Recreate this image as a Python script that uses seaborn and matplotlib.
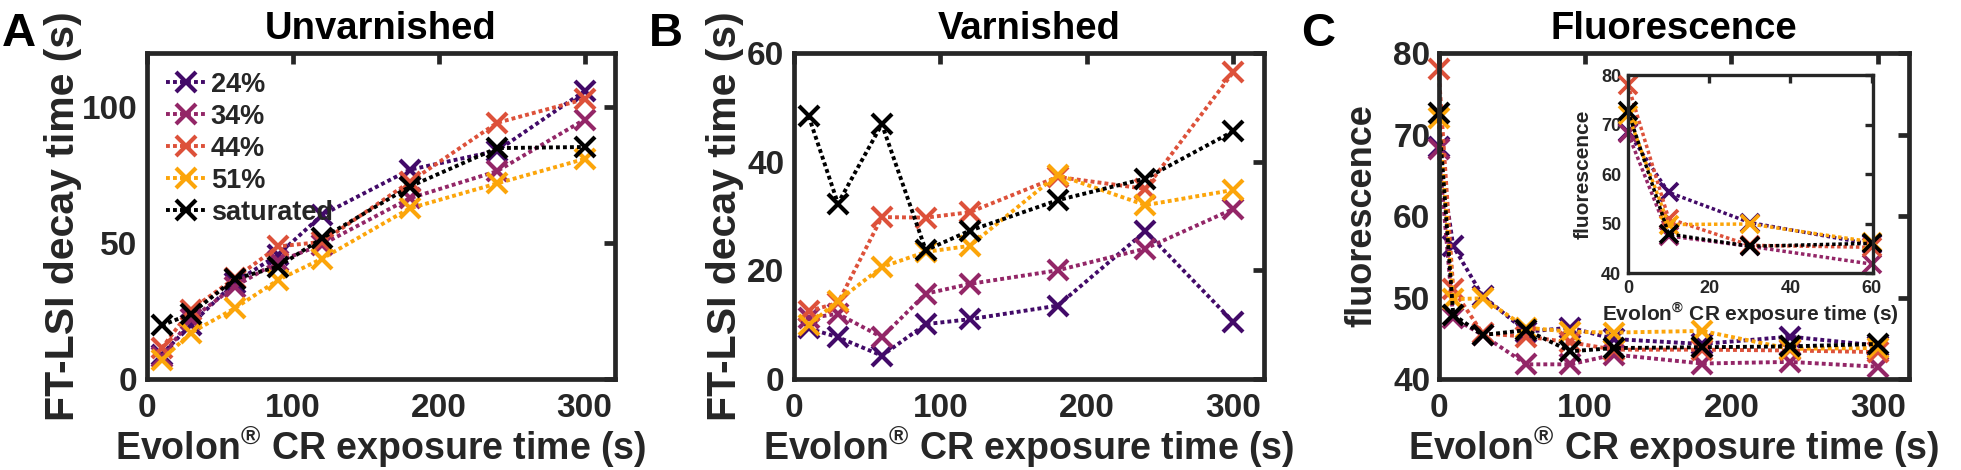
import matplotlib
matplotlib.use("Agg")
import matplotlib.pyplot as plt
import numpy as np
import pandas as pd
import seaborn as sns

# Data
SERIES = ["24%", "34%", "44%", "51%", "saturated"]
COLORS = ["#420a68", "#932667", "#dd513a", "#fca50a", "#000000"]

time_ab = [10, 30, 60, 90, 120, 180, 240, 300]
time_c = [0, 10, 30, 60, 90, 120, 180, 240, 300]

unvarnished_24 = [9, 20, 35.5, 45.8, 60.4, 77, 84, 106]
unvarnished_34 = [8, 22, 34, 43.3, 49.5, 66.5, 76.5, 95.5]
unvarnished_44 = [11.3, 25.5, 37, 48.8, 50.5, 72.5, 94.3, 103]
unvarnished_51 = [7, 17, 26, 36.5, 44.3, 62.8, 72, 81]
unvarnished_sat = [19.7, 24, 36.8, 41.4, 51.8, 70.8, 85, 85.4]

varnished_24 = [9.3, 7.7, 4.3, 10.1, 11, 13.5, 27.2, 10.5]
varnished_34 = [11.2, 12, 7.7, 15.7, 17.5, 20, 24, 31.3]
varnished_44 = [12.5, 14, 29.8, 29.7, 30.7, 37.2, 35, 56.5]
varnished_51 = [9.9, 14.4, 20.6, 23.4, 24.5, 37.6, 32, 34.8]
varnished_sat = [48.4, 32.3, 46.9, 23.7, 27.3, 32.9, 36.9, 45.6]

fluor_24 = [68.5, 56.3, 50.2, 45.8, 46.3, 44.9, 44.3, 45.2, 44.1]
fluor_34 = [68.2, 47.5, 45.4, 41.8, 41.8, 43.0, 41.9, 42.1, 41.5]
fluor_44 = [78.0, 51.0, 45.6, 45.2, 44.5, 43.6, 43.6, 43.5, 43.3]
fluor_51 = [72.0, 49.8, 49.9, 46.3, 45.8, 45.7, 45.9, 43.7, 43.8]
fluor_sat = [72.7, 47.9, 45.4, 46.0, 43.4, 43.8, 43.9, 44.0, 44.3]

INSET_N = 4  # first points (0-60 s) repeated in the inset

unvarnished = pd.DataFrame(dict(zip(SERIES, [unvarnished_24, unvarnished_34, unvarnished_44,
                                             unvarnished_51, unvarnished_sat])), index=time_ab)
varnished = pd.DataFrame(dict(zip(SERIES, [varnished_24, varnished_34, varnished_44,
                                           varnished_51, varnished_sat])), index=time_ab)
fluor = pd.DataFrame(dict(zip(SERIES, [fluor_24, fluor_34, fluor_44, fluor_51, fluor_sat])),
                     index=time_c)

# Style
sns.set_style("white")
DARK = "#262626"
plt.rcParams["font.family"] = ["Liberation Sans", "DejaVu Sans"]
plt.rcParams["font.weight"] = "bold"
plt.rcParams["axes.labelweight"] = "bold"
plt.rcParams["axes.titleweight"] = "bold"
plt.rcParams["text.color"] = DARK
plt.rcParams["axes.labelcolor"] = DARK
plt.rcParams["xtick.color"] = DARK
plt.rcParams["ytick.color"] = DARK

XLABEL = r"Evolon$^{\mathregular{®}}$ CR exposure time (s)"
LINESTYLE = (0, (1, 0.8))


def draw_series(ax, df, ms=15, mew=3.0, lw=2.8):
    for name, color in zip(SERIES, COLORS):
        sns.lineplot(x=df.index.values, y=df[name].values, ax=ax, color=color,
                     marker="x", ms=ms, mew=mew, mec=color, lw=lw,
                     linestyle=LINESTYLE, label=name, clip_on=False, legend=False)


def style_axes(ax, title, ylabel, ylim, yticks, ypad, ylabelpad, ylabelsize):
    ax.set_xlim(0, 321)
    ax.set_ylim(*ylim)
    ax.set_xticks([0, 100, 200, 300])
    ax.set_yticks(yticks)
    for sp in ax.spines.values():
        sp.set_linewidth(3.4)
        sp.set_color(DARK)
    ax.tick_params(axis="both", direction="in", top=True, right=True,
                   length=8, width=3.4, labelsize=24)
    ax.tick_params(axis="x", pad=10)
    ax.tick_params(axis="y", pad=ypad)
    for lab in ax.get_xticklabels() + ax.get_yticklabels():
        lab.set_fontweight("bold")
    ax.set_xlabel(XLABEL, fontsize=27, labelpad=0)
    ax.set_ylabel(ylabel, fontsize=ylabelsize, labelpad=ylabelpad)
    ax.set_title(title, fontsize=27.5, pad=10, color="black")


fig = plt.figure(figsize=(19.61, 4.70), dpi=100)
ax_a = fig.add_axes([0.0750, 0.1936, 0.2387, 0.6936])
ax_b = fig.add_axes([0.4049, 0.1936, 0.2397, 0.6936])
ax_c = fig.add_axes([0.7336, 0.1936, 0.2397, 0.6936])

# A: Unvarnished
draw_series(ax_a, unvarnished)
style_axes(ax_a, "Unvarnished", "FT-LSI decay time (s)", (0, 120), [0, 50, 100], 7, 0, 29.5)
ax_a.legend(loc="upper left", frameon=False, handlelength=1.45,
            handletextpad=0.2, labelspacing=0.22, borderaxespad=0.3,
            prop={"weight": "bold", "size": 19.5})

# B: Varnished
draw_series(ax_b, varnished)
style_axes(ax_b, "Varnished", "FT-LSI decay time (s)", (0, 60), [0, 20, 40, 60], 7, 2, 29.5)

# C: Fluorescence
draw_series(ax_c, fluor)
style_axes(ax_c, "Fluorescence", "fluorescence", (40, 80), [40, 50, 60, 70, 80], 6, 10, 26)

# Inset: first minute
ax_in = fig.add_axes([0.8302, 0.4191, 0.1249, 0.4213])
ax_in.set_facecolor("white")
draw_series(ax_in, fluor.iloc[:INSET_N], ms=13, mew=2.7, lw=2.5)
ax_in.set_xlim(0, 60.3)
ax_in.set_ylim(40, 80)
ax_in.set_xticks([0, 20, 40, 60])
ax_in.set_yticks([40, 50, 60, 70, 80])
for sp in ax_in.spines.values():
    sp.set_linewidth(2.4)
    sp.set_color(DARK)
ax_in.tick_params(axis="both", direction="in", top=True, right=True,
                  length=6, width=2.4, labelsize=13, pad=5)
for lab in ax_in.get_xticklabels() + ax_in.get_yticklabels():
    lab.set_fontweight("bold")
ax_in.set_xlabel(XLABEL, fontsize=15, labelpad=2)
ax_in.set_ylabel("fluorescence", fontsize=15, labelpad=6)

# Panel letters
for x, letter in [(0.001, "A"), (0.331, "B"), (0.6635, "C")]:
    fig.text(x, 0.975, letter, fontsize=34, fontweight="bold", color="black", va="top")

fig.savefig("out.png", dpi=100)
